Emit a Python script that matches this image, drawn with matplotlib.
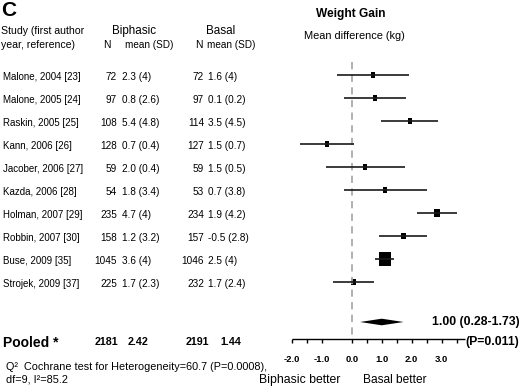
import matplotlib
matplotlib.use('Agg')
import matplotlib.pyplot as plt
from matplotlib.patches import Rectangle, Polygon
import numpy as np

plt.rcParams['font.family'] = ['Liberation Sans', 'DejaVu Sans']

# ---------------- data ----------------
studies = ["Malone, 2004 [23]", "Malone, 2005 [24]", "Raskin, 2005 [25]",
           "Kann, 2006 [26]", "Jacober, 2006 [27]", "Kazda, 2006 [28]",
           "Holman, 2007 [29]", "Robbin, 2007 [30]", "Buse, 2009 [35]",
           "Strojek, 2009 [37]"]
bi_n = [72, 97, 108, 128, 59, 54, 235, 158, 1045, 225]
bi_mean = ["2.3 (4)", "0.8 (2.6)", "5.4 (4.8)", "0.7 (0.4)", "2.0 (0.4)",
           "1.8 (3.4)", "4.7 (4)", "1.2 (3.2)", "3.6 (4)", "1.7 (2.3)"]
ba_n = [72, 97, 114, 127, 59, 53, 234, 157, 1046, 232]
ba_mean = ["1.6 (4)", "0.1 (0.2)", "3.5 (4.5)", "1.5 (0.7)", "1.5 (0.5)",
           "0.7 (3.8)", "1.9 (4.2)", "-0.5 (2.8)", "2.5 (4)", "1.7 (2.4)"]
md = [0.72, 0.78, 1.93, -0.82, 0.45, 1.11, 2.84, 1.73, 1.11, 0.07]
ci_lo = [-0.48, -0.26, 0.97, -1.72, -0.86, -0.26, 2.19, 0.92, 0.79, -0.61]
ci_hi = [1.92, 1.81, 2.89, 0.09, 1.79, 2.50, 3.50, 2.52, 1.41, 0.75]
pooled_n_bi, pooled_mean_bi = 2181, "2.42"
pooled_n_ba, pooled_mean_ba = 2191, "1.44"
pooled_md, pooled_lo, pooled_hi = 1.00, 0.28, 1.73
pooled_p = "0.011"
tick_vals = [-2.0, -1.5, -1.0, 0.0, 0.5, 1.0, 1.5, 2.0, 2.5, 3.0, 3.5]
tick_labels = [-2.0, -1.0, 0.0, 1.0, 2.0, 3.0]

# ---------------- layout ----------------
W, H = 520, 387
fig = plt.figure(figsize=(W / 100, H / 100), dpi=100)
ax = fig.add_axes([0, 0, 1, 1])
ax.set_axis_off()

X0, SC = 351.7, 30.0        # pixel of zero, pixels per unit
Y0, RS = 75.0, 23.0         # pixel of first row, pixels per row
ax.set_xlim(-X0 / SC, (W - X0) / SC)
ax.set_ylim((H - Y0) / RS, -Y0 / RS)


def px(x):
    return (x - X0) / SC


def py(y):
    return (y - Y0) / RS


rows = np.arange(len(studies))

# zero reference line
ax.vlines(0, py(62), py(338), colors='#aaaaaa', linestyles=(0, (4, 3)), lw=1.3)

# confidence intervals
ax.hlines(rows, ci_lo, ci_hi, colors='#1a1a1a', lw=1.2)

# boxes, area ~ inverse variance weight
se = (np.array(ci_hi) - np.array(ci_lo)) / 3.92
side = np.maximum(1.74 * np.sqrt(1 / se ** 2), 3.8)          # pixels
for r, m, s in zip(rows, md, side):
    wu = s / SC
    hu = 1.35 * s / RS
    ax.add_patch(Rectangle((m - wu / 2, r - hu / 2), wu, hu, color='black', lw=0))

# pooled diamond
yd = py(322)
hd = 3.3 / RS
ax.add_patch(Polygon([(pooled_lo, yd), (pooled_md, yd - hd), (pooled_hi, yd),
                      (pooled_md, yd + hd)], closed=True, color='black', lw=0))

# x axis
ya = py(338.5)
ax.hlines(ya, -2.0, px(465), colors='black', lw=1.0)
ax.vlines(tick_vals, ya, py(343), colors='black', lw=1.0)
for t in tick_labels:
    ax.text(t, py(359), f"{t:.1f}", ha='center', va='center', fontsize=6.8,
            fontweight='bold')

# ---------------- text ----------------
ax.text(px(1), py(11), "C", ha='left', va='center', fontsize=15, fontweight='bold')
ax.text(px(1), py(31), "Study (first author", ha='left', va='center', fontsize=7.6)
ax.text(px(1), py(45), "year, reference)", ha='left', va='center', fontsize=7.6)
ax.text(px(134), py(31), "Biphasic", ha='center', va='center', fontsize=8.4)
ax.text(px(221), py(31), "Basal", ha='center', va='center', fontsize=8.4)
ax.text(px(107), py(45), "N", ha='center', va='center', fontsize=7.4)
ax.text(px(125), py(45), "mean (SD)", ha='left', va='center', fontsize=7.2)
ax.text(px(199), py(45), "N", ha='center', va='center', fontsize=7.4)
ax.text(px(207), py(45), "mean (SD)", ha='left', va='center', fontsize=7.2)

for r in rows:
    y = r + 1.8 / RS
    ax.text(px(3), y, studies[r], ha='left', va='center', fontsize=7.0)
    ax.text(px(117), y, str(bi_n[r]), ha='right', va='center', fontsize=7.2)
    ax.text(px(122.5), y, bi_mean[r], ha='left', va='center', fontsize=7.2)
    ax.text(px(204), y, str(ba_n[r]), ha='right', va='center', fontsize=7.2)
    ax.text(px(208.5), y, ba_mean[r], ha='left', va='center', fontsize=7.2)

ax.text(px(3), py(343), "Pooled *", ha='left', va='center', fontsize=10,
        fontweight='bold')
ax.text(px(118.5), py(342), str(pooled_n_bi), ha='right', va='center',
        fontsize=7.7, fontweight='bold')
ax.text(px(128), py(342), pooled_mean_bi, ha='left', va='center',
        fontsize=7.7, fontweight='bold')
ax.text(px(209.5), py(342), str(pooled_n_ba), ha='right', va='center',
        fontsize=7.7, fontweight='bold')
ax.text(px(220), py(342), pooled_mean_ba, ha='left', va='center',
        fontsize=7.7, fontweight='bold')

ax.text(px(6), py(367), "Q²  Cochrane test for Heterogeneity=60.7 (P=0.0008),",
        ha='left', va='center', fontsize=7.8)
ax.text(px(6), py(379.5), "df=9, I²=85.2", ha='left', va='center', fontsize=7.8)

ax.text(px(351), py(14), "Weight Gain", ha='center', va='center', fontsize=8.6,
        fontweight='bold')
ax.text(px(354), py(36), "Mean difference (kg)", ha='center', va='center',
        fontsize=7.9)

ax.text(px(519.5), py(322), f"{pooled_md:.2f} ({pooled_lo:.2f}-{pooled_hi:.2f})",
        ha='right', va='center', fontsize=8.8, fontweight='bold')
ax.text(px(465), py(341.5), f"(P={pooled_p})", ha='left', va='center',
        fontsize=8.8, fontweight='bold')

ax.text(px(259), py(380), "Biphasic better", ha='left', va='center', fontsize=8.8)
ax.text(px(363), py(380), "Basal better", ha='left', va='center', fontsize=8.6)

fig.savefig("out.png", dpi=100)
